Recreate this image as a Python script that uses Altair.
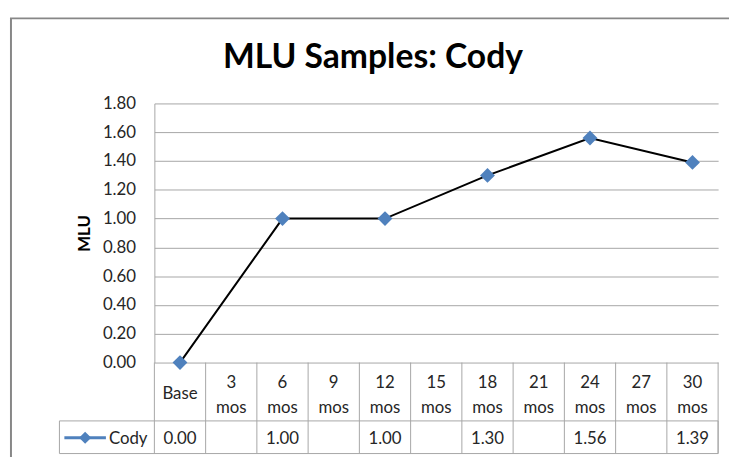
import altair as alt
import pandas as pd

# ---- data ----
categories = ["Base", "3 mos", "6 mos", "9 mos", "12 mos", "15 mos",
              "18 mos", "21 mos", "24 mos", "27 mos", "30 mos"]
mlu = [0.00, None, 1.00, None, 1.00, None, 1.30, None, 1.56, None, 1.39]
series_name = "Cody"
chart_title = "MLU Samples: Cody"
y_title = "MLU"
y_ticks = [0.0, 0.2, 0.4, 0.6, 0.8, 1.0, 1.2, 1.4, 1.6, 1.8]

# ---- layout constants (pixels) ----
W, H = 570, 262
FONT = "Lato"
BLUE = "#4f81bd"
GRID = "#a6a6a6"
TXT = "#262626"

n = len(categories)
df = pd.DataFrame({"idx": list(range(n)), "cat": categories, "mlu": mlu})
df["header"] = df["cat"].str.replace(" ", "\n")
df["vlabel"] = [("" if pd.isna(v) else f"{v:.2f}") for v in df["mlu"]]
pts = df.dropna(subset=["mlu"])
edges = pd.DataFrame({"edge": [i - 0.5 for i in range(n + 1)]})
one = pd.DataFrame({"a": [0]})

xs = alt.Scale(domain=[-0.5, n - 0.5], nice=False, zero=False)
ys = alt.Scale(domain=[0, 1.8], nice=False)
X = alt.X("idx:Q", scale=xs, axis=None)

# line with diamond markers (single layer, so the y axis is not merged)
line = alt.Chart(pts).mark_line(
    color="black", strokeWidth=2,
    point=alt.OverlayMarkDef(shape="diamond", filled=True, size=225,
                             color=BLUE, opacity=1),
).encode(
    x=X,
    y=alt.Y("mlu:Q", scale=ys,
            axis=alt.Axis(values=y_ticks, format=".2f", title=y_title,
                          grid=True, gridColor=GRID,
                          domainColor=GRID, ticks=False,
                          labelFont=FONT, labelFontSize=17, labelColor=TXT,
                          labelPadding=19,
                          titleFont=FONT, titleFontSize=17, titleFontWeight="bold",
                          titleColor="black", titlePadding=9)),
)

vlines = alt.Chart(edges).mark_rule(color=GRID, strokeWidth=1).encode(
    x=alt.X("edge:Q", scale=xs, axis=None), y=alt.value(H), y2=alt.value(354))

row_box = alt.Chart(one).mark_rect(fillOpacity=0, stroke=GRID, strokeWidth=1).encode(
    x=alt.value(-96), x2=alt.value(W), y=alt.value(321), y2=alt.value(354))

header1 = alt.Chart(df).transform_filter(
    "indexof(datum.cat, ' ') < 0").mark_text(
    font=FONT, fontSize=17, color=TXT, baseline="middle", align="center").encode(
    x=X, y=alt.value(294), text="cat:N")
header2 = alt.Chart(df).transform_filter(
    "indexof(datum.cat, ' ') >= 0").mark_text(
    font=FONT, fontSize=17, color=TXT, lineBreak="\n", lineHeight=25,
    baseline="middle", align="center").encode(
    x=X, y=alt.value(283), text="header:N")

values = alt.Chart(df).mark_text(font=FONT, fontSize=17, color=TXT,
                                 baseline="middle", align="center").encode(
    x=X, y=alt.value(339), text="vlabel:N")

leg_line = alt.Chart(one).mark_rect(color=BLUE).encode(
    x=alt.value(-91), x2=alt.value(-49), y=alt.value(336.5), y2=alt.value(339.5))
leg_pt = alt.Chart(one).mark_point(shape="diamond", filled=True, size=150,
                                   color=BLUE, opacity=1).encode(
    x=alt.value(-70), y=alt.value(338))
leg_txt = alt.Chart(pd.DataFrame({"name": [series_name]})).mark_text(
    font=FONT, fontSize=17, color=TXT, align="left", baseline="middle").encode(
    x=alt.value(-46), y=alt.value(339), text="name:N")

title = alt.Chart(pd.DataFrame({"t": [chart_title]})).mark_text(
    font=FONT, fontSize=34, fontWeight="bold", color="black",
    align="center", baseline="alphabetic").encode(
    x=alt.value(221), y=alt.value(-36), text="t:N")

frame = alt.Chart(one).mark_rect(fillOpacity=0, stroke="#878787", strokeWidth=2).encode(
    x=alt.value(-145), x2=alt.value(700), y=alt.value(-86), y2=alt.value(500))

chart = alt.layer(
    line, vlines, row_box, header1, header2, values,
    leg_line, leg_pt, leg_txt, title, frame,
).properties(
    width=W, height=H,
    view=alt.ViewBackground(strokeWidth=0),
    autosize=alt.AutoSizeParams(type="none"),
    padding={"left": 148, "top": 94, "right": 11, "bottom": 93},
)

chart.save("out.html", embed_options={"renderer": "svg", "actions": False})
